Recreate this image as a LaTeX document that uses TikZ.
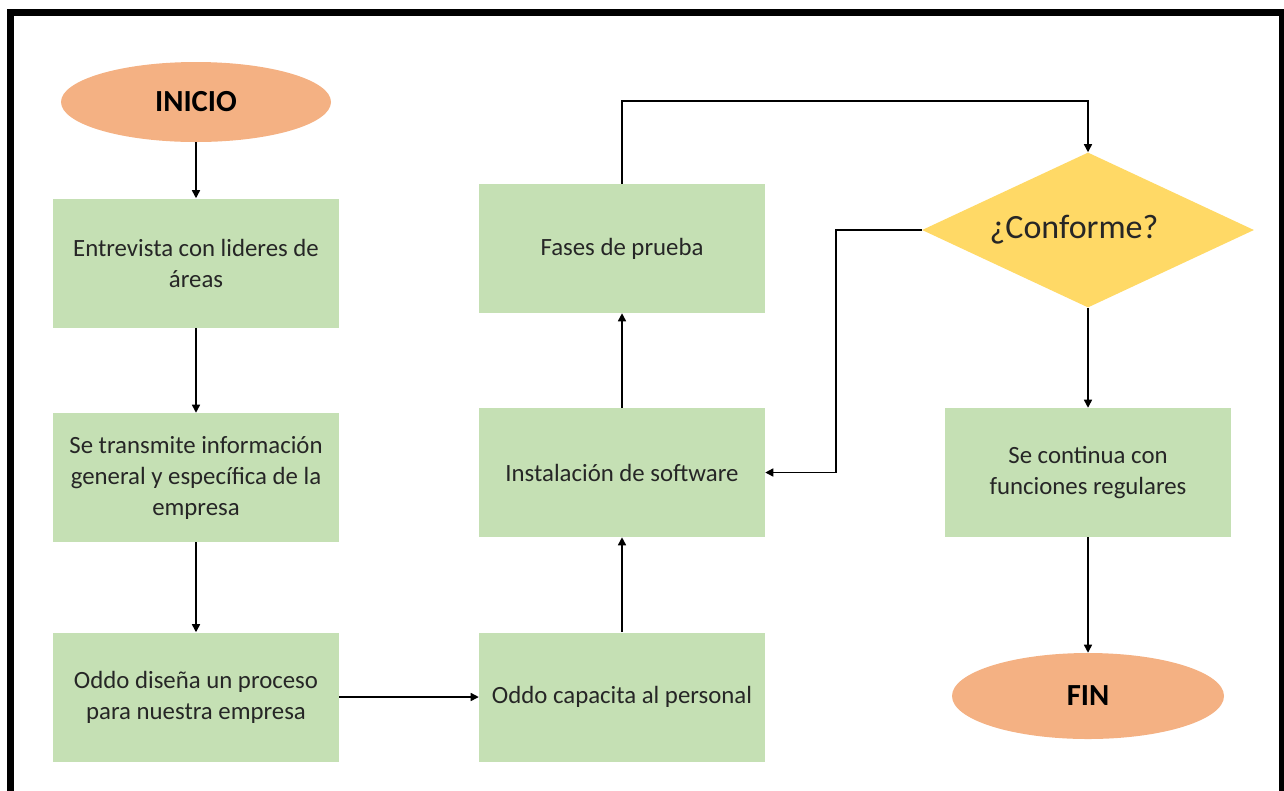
\documentclass[tikz,border=0pt]{standalone}
\usepackage{fontspec}
\setmainfont{Carlito}
\usetikzlibrary{shapes.geometric,arrows.meta}
\definecolor{boxgreen}{HTML}{C5E0B4}
\definecolor{ovalorange}{HTML}{F4B183}
\definecolor{diayellow}{HTML}{FFD966}
\definecolor{txt}{HTML}{262626}
\tikzset{
  stepbox/.style={rectangle, fill=boxgreen, draw=none, minimum width=214.5pt, minimum height=96.75pt, inner sep=0pt, align=center, text=txt, font=\fontsize{18.6}{23.25}\selectfont},
  terminal/.style={ellipse, fill=ovalorange, draw=none, inner sep=0pt, font=\fontsize{23}{27}\selectfont\bfseries, text=black},
  decision/.style={diamond, fill=diayellow, draw=none, inner sep=0pt, shape aspect=2.1, minimum width=249pt, minimum height=116.25pt, font=\fontsize{25.5}{30}\selectfont, text=txt},
  flow/.style={draw=black, line width=1.1pt, -{Triangle[length=6pt,width=6pt]}},
}
\begin{document}
\begin{tikzpicture}[x=0.75pt,y=-0.75pt]
\useasboundingbox (0,0) rectangle (1284,790);
\begin{scope}
\clip (0,0) rectangle (1284,790);
\draw[line width=5.25pt, line join=miter] (10.5,800) -- (10.5,12.5) -- (1282.5,12.5) -- (1282.5,800);
\end{scope}

\node[terminal, minimum width=202.5pt, minimum height=60pt] (inicio) at (196,102) {INICIO};
\node[stepbox] (b1) at (196,263) {Entrevista con lideres de\\áreas};
\node[stepbox] (b2) at (196,477.5) {Se transmite información\\general y específica de la\\empresa};
\node[stepbox] (b3) at (196,697) {Oddo diseña un proceso\\para nuestra empresa};
\node[stepbox] (b4) at (622,697) {Oddo capacita al personal};
\node[stepbox] (b5) at (622,472.5) {Instalación de software};
\node[stepbox] (b6) at (622,248.5) {Fases de prueba};
\node[decision] (dec) at (1088,230) {\raisebox{-2pt}{¿Conforme?}\hspace*{21pt}};
\node[stepbox] (b7) at (1088,472.5) {Se continua con\\funciones regulares};
\node[terminal, minimum width=204pt, minimum height=64.5pt] (fin) at (1088,696) {FIN};

\coordinate (c1) at (622,101);
\coordinate (c2) at (1088,101);
\coordinate (c3) at (836,230);
\coordinate (c4) at (836,472.5);

\draw[flow] (inicio.south) -- (b1.north);
\draw[flow] (b1.south) -- (b2.north);
\draw[flow] (b2.south) -- (b3.north);
\draw[flow] (b3.east) -- (b4.west);
\draw[flow] (b4.north) -- (b5.south);
\draw[flow] (b5.north) -- (b6.south);
\draw[flow] (b6.north) -- (c1) -- (c2) -- (dec.north);
\draw[flow] (dec.west) -- (c3) -- (c4) -- (b5.east);
\draw[flow] (dec.south) -- (b7.north);
\draw[flow] (b7.south) -- (fin.north);
\end{tikzpicture}
\end{document}
